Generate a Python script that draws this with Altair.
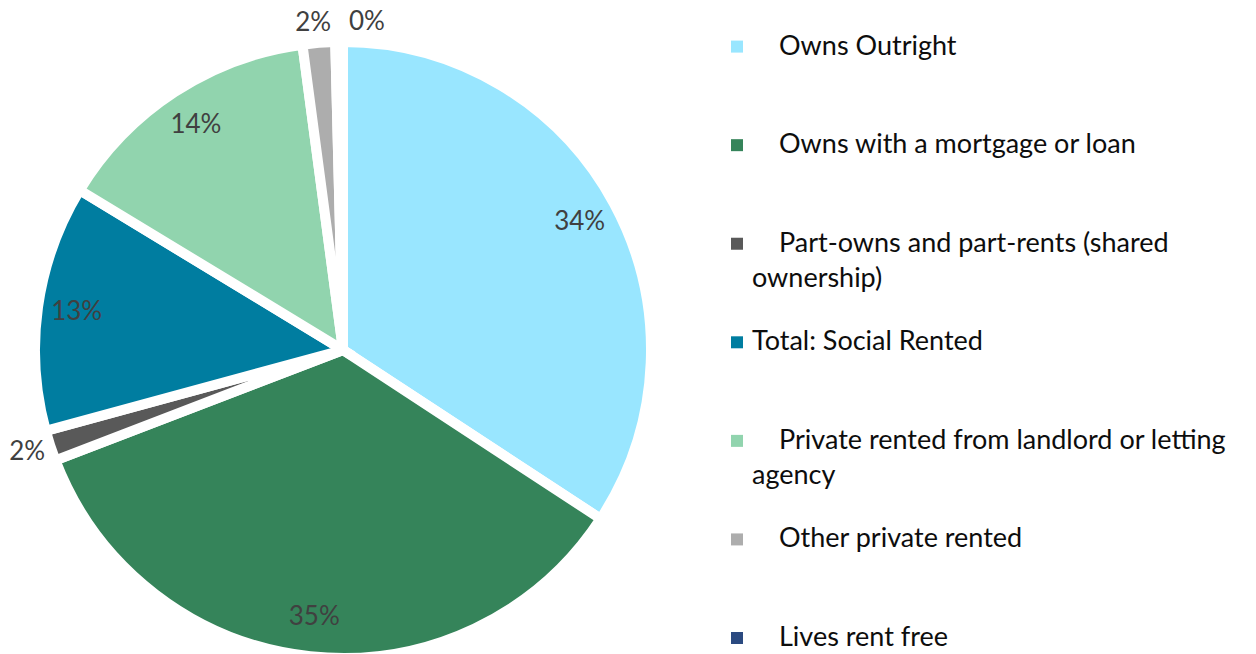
import altair as alt
import pandas as pd

categories = [
    "Owns Outright",
    "Owns with a mortgage or loan",
    "Part-owns and part-rents (shared ownership)",
    "Total: Social Rented",
    "Private rented from landlord or letting agency",
    "Other private rented",
    "Lives rent free",
]
values = [34.2, 34.9, 1.6, 12.9, 14.2, 1.7, 0.4]
colors = ["#99E6FF", "#35845A", "#595959", "#007DA0", "#91D4AE", "#ADADAD", "#2B4A80"]
legend_line1 = [
    "   Owns Outright",
    "   Owns with a mortgage or loan",
    "   Part-owns and part-rents (shared",
    "Total: Social Rented",
    "   Private rented from landlord or letting",
    "   Other private rented",
    "   Lives rent free",
]
legend_line2 = ["", "", "ownership)", "", "agency", "", ""]

df = pd.DataFrame({
    "idx": list(range(len(categories))),
    "category": categories,
    "value": values,
    "line1": legend_line1,
    "line2": legend_line2,
})

FONT = "Lato"
LEG_SIZE = 27
color_scale = alt.Scale(domain=categories, range=colors)
CX, CY = 335, 342

base = alt.Chart(df).encode(
    theta=alt.Theta("value:Q", stack=True),
    order=alt.Order("idx:Q"),
    x=alt.value(CX),
    y=alt.value(CY),
)

arcs = base.mark_arc(outerRadius=308, stroke="white", strokeWidth=10).encode(
    color=alt.Color("category:N", scale=color_scale, legend=None)
)

inside = base.transform_calculate(
    lab="datum.value >= 5 ? format(datum.value, '.0f') + '%' : ''"
).mark_text(radius=269, font=FONT, fontSize=26, color="#404040").encode(text="lab:N")

outside = base.transform_calculate(
    lab="datum.value < 5 && datum.value >= 1 ? format(datum.value, '.0f') + '%' : ''"
).mark_text(radius=328, font=FONT, fontSize=26, color="#404040", dx=-4).encode(text="lab:N")

outside_tiny = base.transform_calculate(
    lab="datum.value < 1 ? format(datum.value, '.0f') + '%' : ''"
).mark_text(radius=328, font=FONT, fontSize=26, color="#404040", dx=28).encode(text="lab:N")

pie = alt.layer(arcs, inside, outside, outside_tiny).properties(width=690, height=638)

ypos = alt.Y("category:N", sort=categories, axis=None,
             scale=alt.Scale(type="point", range=[38.6, 630], padding=0))
leg_base = alt.Chart(df).encode(y=ypos)

symbols = leg_base.mark_square(size=144, opacity=1).encode(
    x=alt.value(39),
    color=alt.Color("category:N", scale=color_scale, legend=None),
)

line1_ind = leg_base.transform_filter("indexof(datum.line1, ' ') == 0").transform_calculate(
    t="trim(datum.line1)"
).mark_text(align="left", baseline="middle", font=FONT, fontSize=LEG_SIZE, color="#0D0D0D").encode(
    x=alt.value(81), text="t:N"
)
line1_flat = leg_base.transform_filter("indexof(datum.line1, ' ') != 0").mark_text(
    align="left", baseline="middle", font=FONT, fontSize=LEG_SIZE, color="#0D0D0D"
).encode(x=alt.value(54), text="line1:N")
line2 = leg_base.transform_filter("datum.line2 != ''").mark_text(
    align="left", baseline="middle", font=FONT, fontSize=LEG_SIZE, color="#0D0D0D", dy=35
).encode(x=alt.value(54), text="line2:N")

legend = alt.layer(symbols, line1_ind, line1_flat, line2).properties(width=540, height=638)

chart = alt.hconcat(pie, legend, spacing=0).properties(
    padding=0
).configure_view(stroke=None)

chart.save("out.html", embed_options={"renderer": "svg", "actions": False})
